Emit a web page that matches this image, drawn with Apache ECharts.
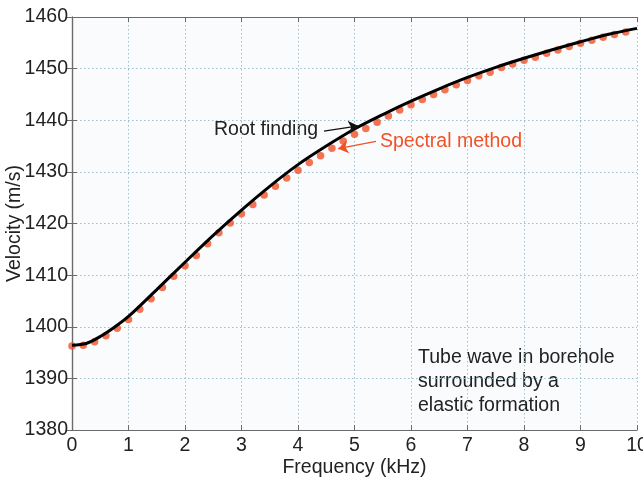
<!DOCTYPE html>
<html>
<head>
<meta charset="utf-8">
<script src="https://cdn.jsdelivr.net/npm/echarts@6/dist/echarts.min.js"></script>
<style>
html,body{margin:0;padding:0;background:#fff;}
#c{width:643px;height:483px;}
</style>
</head>
<body>
<div id="c"></div>
<script>
// Spectral method points (frequency kHz, velocity m/s)
const dotFreq = [0,0.2,0.4,0.6,0.8,1.0,1.2,1.4,1.6,1.8,
  2.0,2.2,2.4,2.6,2.8,3.0,3.2,3.4,3.6,3.8,
  4.0,4.2,4.4,4.6,4.8,5.0,5.2,5.4,5.6,5.8,
  6.0,6.2,6.4,6.6,6.8,7.0,7.2,7.4,7.6,7.8,
  8.0,8.2,8.4,8.6,8.8,9.0,9.2,9.4,9.6,9.8];
const dotVel = [1396.25,1396.4,1397.1,1398.25,1399.7,1401.4,1403.4,1405.4,1407.6,1409.8,
  1411.8,1413.8,1416.1,1418.2,1420.1,1421.9,1423.7,1425.5,1427.2,1428.8,
  1430.3,1431.8,1433.1,1434.6,1436.0,1437.3,1438.4,1439.6,1440.8,1442.0,
  1443.0,1444.0,1445.0,1445.9,1446.9,1447.7,1448.6,1449.3,1450.2,1450.9,
  1451.6,1452.2,1453.0,1453.6,1454.3,1454.9,1455.5,1456.1,1456.6,1457.1];
// Root finding curve
const lineFreq = [0,0.25,0.5,0.75,1,1.5,2,2.5,3,3.5,4,4.5,5,5.5,6,6.5,7,7.5,8,8.5,9,9.5,10];
const lineVel = [1396.4,1396.75,1398.1,1399.9,1402.0,1407.2,1412.5,1417.7,1422.6,1427.2,1431.4,1435.0,
  1438.3,1441.1,1443.7,1446.1,1448.3,1450.25,1452.0,1453.65,1455.2,1456.65,1457.8];
const xTicks = [0,1,2,3,4,5,6,7,8,9,10];
const yTicks = [1380,1390,1400,1410,1420,1430,1440,1450,1460];

const FONT = '"Liberation Sans", Arial, Helvetica, sans-serif';
const FS = 19.5;
const gridColor = '#9dbfcf';
const frameColor = '#6b6b6b';

const chart = echarts.init(document.getElementById('c'), null, {renderer:'canvas'});

const baseAxisLine = {show:true, lineStyle:{color:frameColor, width:1.2}};
const tickIn = {show:true, inside:true, length:5, lineStyle:{color:frameColor, width:1}};

const option = {
  animation:false,
  backgroundColor:'#ffffff',
  grid:{left:72, right:6, top:17, bottom:53, containLabel:false, outerBoundsMode:'none',
        show:true, backgroundColor:'#fafbfd', borderWidth:0},
  xAxis:[{
    type:'value', min:xTicks[0], max:xTicks[xTicks.length-1], interval:1,
    name:'Frequency (kHz)', nameLocation:'middle', nameGap:28, nameMoveOverlap:false,
    nameTextStyle:{fontFamily:FONT, fontSize:FS, color:'#222'},
    axisLine:baseAxisLine, axisTick:tickIn,
    axisLabel:{fontFamily:FONT, fontSize:FS, color:'#222', margin:6, formatter:v=>String(v)},
    splitLine:{show:true, lineStyle:{color:gridColor, type:[1.5,2.5], width:1}}
  },{
    type:'value', position:'top', min:xTicks[0], max:xTicks[xTicks.length-1], interval:1,
    axisLine:baseAxisLine, axisTick:tickIn, axisLabel:{show:false}, splitLine:{show:false}
  }],
  yAxis:[{
    type:'value', min:yTicks[0], max:yTicks[yTicks.length-1], interval:10,
    name:'Velocity (m/s)', nameLocation:'middle', nameGap:47, nameMoveOverlap:false,
    nameTextStyle:{fontFamily:FONT, fontSize:FS, color:'#222'},
    axisLine:baseAxisLine, axisTick:tickIn,
    axisLabel:{fontFamily:FONT, fontSize:FS, color:'#222', margin:4, formatter:v=>String(v)},
    splitLine:{show:true, lineStyle:{color:gridColor, type:[1.5,2.5], width:1}}
  },{
    type:'value', position:'right', min:yTicks[0], max:yTicks[yTicks.length-1], interval:10,
    axisLine:baseAxisLine, axisTick:tickIn, axisLabel:{show:false}, splitLine:{show:false}
  }],
  series:[
    {
      name:'Spectral method', type:'scatter', xAxisIndex:0, yAxisIndex:0,
      data:dotFreq.map((f,i)=>[f,dotVel[i]]),
      symbol:'circle', symbolSize:7.5,
      itemStyle:{color:'#f05228'}, z:3
    },
    {
      name:'Root finding', type:'line', xAxisIndex:0, yAxisIndex:0,
      data:lineFreq.map((f,i)=>[f,lineVel[i]]),
      smooth:0.3, showSymbol:false, symbol:'none',
      lineStyle:{color:'#000', width:3}, z:4,
      markLine:{
        silent:true, animation:false, symbol:['none','arrow'], symbolSize:10,
        label:{show:false},
        data:[
          [{coord:[4.46,1437.9], lineStyle:{color:'#111', width:1.3, type:'solid'}},{coord:[5.07,1438.9]}],
          [{coord:[5.38,1435.9], lineStyle:{color:'#f05228', width:1.3, type:'solid'}},{coord:[4.71,1434.5]}]
        ]
      }
    }
  ],
  graphic:[
    {type:'text', left:214, top:120, style:{text:'Root finding', font:FS+'px '+FONT, fill:'#222'}},
    {type:'text', left:380, top:132, style:{text:'Spectral method', font:FS+'px '+FONT, fill:'#f05228'}},
    {type:'text', left:418, top:346, style:{text:'Tube wave in borehole\nsurrounded by a\nelastic formation', font:FS+'px '+FONT, fill:'#222', lineHeight:24}}
  ]
};
chart.setOption(option);
</script>
</body>
</html>
